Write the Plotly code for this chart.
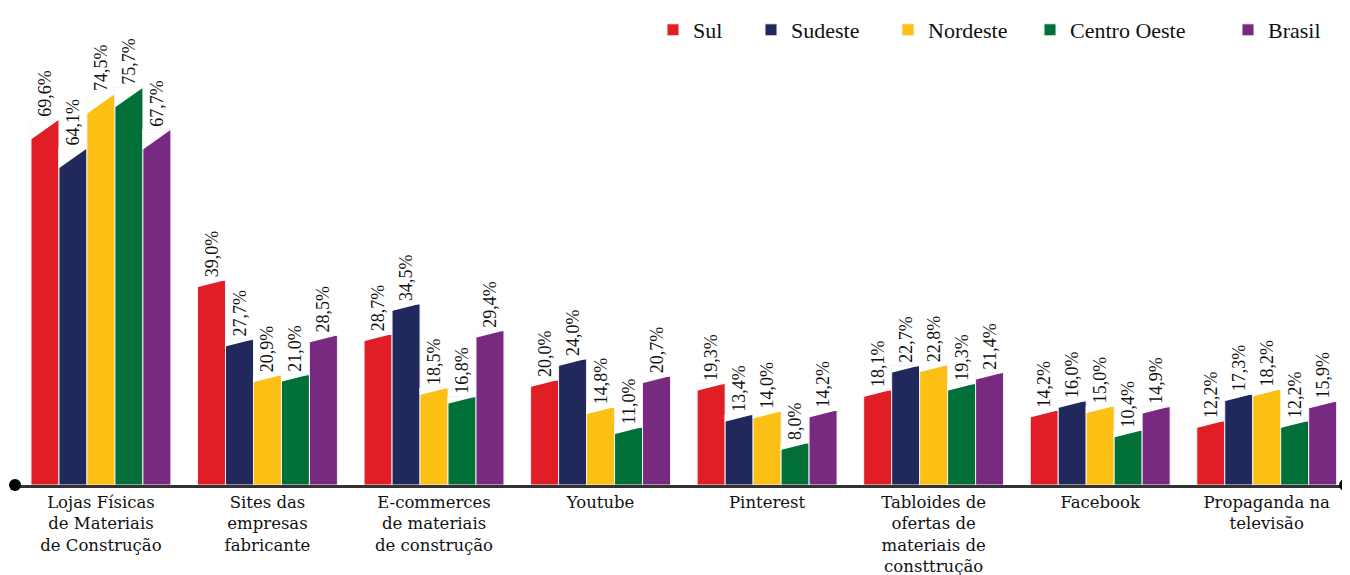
import plotly.graph_objects as go

categories = [
    "Lojas Físicas<br>de Materiais<br>de Construção",
    "Sites das<br>empresas<br>fabricante",
    "E-commerces<br>de materiais<br>de construção",
    "Youtube",
    "Pinterest",
    "Tabloides de<br>ofertas de<br>materiais de<br>consttrução",
    "Facebook",
    "Propaganda na<br>televisão",
]

sul = [69.6, 39.0, 28.7, 20.0, 19.3, 18.1, 14.2, 12.2]
sudeste = [64.1, 27.7, 34.5, 24.0, 13.4, 22.7, 16.0, 17.3]
nordeste = [74.5, 20.9, 18.5, 14.8, 14.0, 22.8, 15.0, 18.2]
centro_oeste = [75.7, 21.0, 16.8, 11.0, 8.0, 19.3, 10.4, 12.2]
brasil = [67.7, 28.5, 29.4, 20.7, 14.2, 21.4, 14.9, 15.9]

series_names = ["Sul", "Sudeste", "Nordeste", "Centro Oeste", "Brasil"]
series_values = [sul, sudeste, nordeste, centro_oeste, brasil]
colors = ["#E11E26", "#21295C", "#FCBF14", "#007038", "#782A80"]

FONT = "Liberation Serif"
TICK_FONT = "DejaVu Serif"

# layout geometry (pixels); the page adds an 8px body margin
W, H = 1342, 567
ML, MR, MT, MB = 4, 5, 12, 90
PLOT_W = W - ML - MR
PLOT_H = H - MT - MB
Y_MAX = 88.6
X_RANGE = [-0.534, 7.47]

GROUP_W = 0.84                 # share of a category slot covered by the group
BAR_W = GROUP_W / len(series_names)
# decorative slant of bar tops (pixels), first group steeper
SLANT_PX = [20, 7, 7, 7, 7, 7, 7, 7]
UNITS_PER_PX = Y_MAX / PLOT_H

# legend text start positions (px, figure coords), one legend per series
legend_text_px = [685, 783, 920, 1062, 1260]
legend_center_py = 22

idx = list(range(len(categories)))

fig = go.Figure()
for j, (name, vals, col) in enumerate(zip(series_names, series_values, colors)):
    lg = "legend" if j == 0 else f"legend{j + 1}"
    off = (j - (len(series_names) - 1) / 2) * BAR_W
    xs = [i + off for i in idx]
    fig.add_trace(go.Bar(
        name=name,
        x=xs,
        y=vals,
        width=BAR_W,
        legend=lg,
        marker=dict(color=col, line=dict(color="#f2f2f2", width=1)),
        texttemplate="%{y:.1f}%",
        textposition="outside",
        textangle=-90,
        textfont=dict(family=FONT, size=18, color="#111111"),
        cliponaxis=False,
        constraintext="none",
        hovertemplate=name + ": %{y:.1f}%<extra></extra>",
    ))

# white wedges that give each bar its slanted top (derived from the values)
for j, vals in enumerate(series_values):
    off = (j - (len(series_names) - 1) / 2) * BAR_W
    px_, py_ = [], []
    for i, v in zip(idx, vals):
        xl = i + off - BAR_W / 2 - 0.002
        xr = i + off + BAR_W / 2 + 0.002
        s = SLANT_PX[i] * UNITS_PER_PX
        px_ += [xl, xr, xl, xl, None]
        py_ += [v + 0.05, v + 0.05, v - s, v + 0.05, None]
    fig.add_trace(go.Scatter(
        x=px_, y=py_,
        mode="lines",
        fill="toself",
        fillcolor="white",
        line=dict(width=0, color="white"),
        hoverinfo="skip",
        showlegend=False,
        cliponaxis=False,
    ))

legend_layout = {}
for j, tx in enumerate(legend_text_px):
    key = "legend" if j == 0 else f"legend{j + 1}"
    legend_layout[key] = dict(
        orientation="h",
        x=(tx - 40 - ML) / PLOT_W,
        xanchor="left",
        y=1 - (legend_center_py - MT) / PLOT_H,
        yanchor="middle",
        font=dict(family=FONT, size=22, color="#111111"),
        bgcolor="rgba(0,0,0,0)",
        borderwidth=0,
    )

fig.update_layout(
    width=W,
    height=H,
    separators=",.",
    barmode="overlay",
    plot_bgcolor="white",
    paper_bgcolor="white",
    margin=dict(l=ML, r=MR, t=MT, b=MB, autoexpand=False),
    font=dict(family=FONT, size=19, color="#111111"),
    showlegend=True,
    xaxis=dict(
        range=X_RANGE,
        tickmode="array",
        tickvals=idx,
        ticktext=categories,
        showline=True,
        linecolor="#333333",
        linewidth=3,
        ticks="",
        showgrid=False,
        zeroline=False,
        automargin=False,
        tickfont=dict(family=TICK_FONT, size=16.5, color="#111111"),
    ),
    yaxis=dict(
        range=[0, Y_MAX],
        visible=False,
        showgrid=False,
        zeroline=False,
        automargin=False,
    ),
    **legend_layout,
)

# end dots of the axis line
for px, (a, b) in ((0, (-3, 9)), (1, (-6, 6))):
    fig.add_shape(
        type="circle",
        xref="paper", yref="paper",
        xsizemode="pixel", ysizemode="pixel",
        xanchor=px, yanchor=0,
        x0=a, x1=b, y0=-6, y1=6,
        fillcolor="black", line=dict(color="black", width=0),
    )

fig.write_html("out.html")
